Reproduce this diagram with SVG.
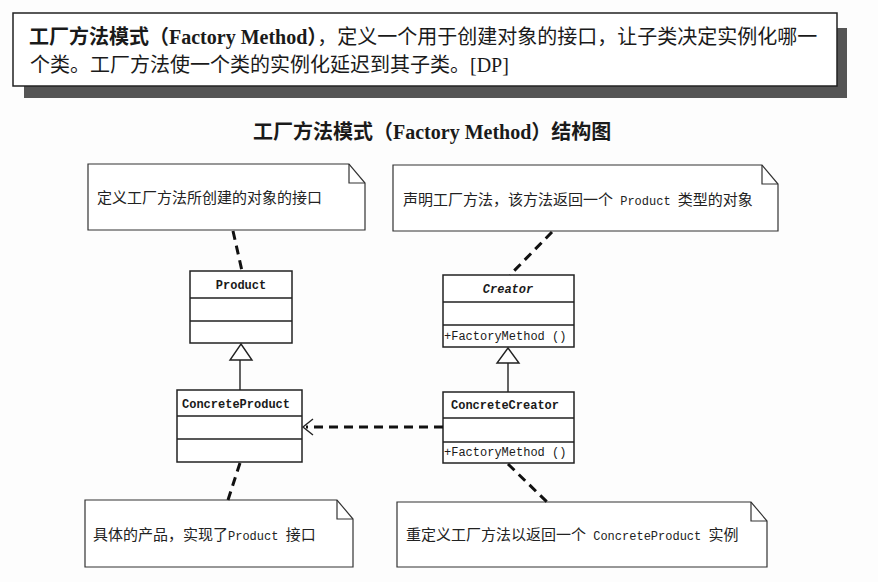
<svg xmlns="http://www.w3.org/2000/svg" width="878" height="582" viewBox="0 0 878 582">
<style>
.bg{fill:#fdfdfd}
.box{fill:#fff;stroke:#222;stroke-width:1.5}
.sep{stroke:#222;stroke-width:1.3;fill:none}
.note{fill:#fff;stroke:#333;stroke-width:1.2}
.fold{fill:none;stroke:#333;stroke-width:1.2}
.dash{stroke:#111;stroke-width:3;stroke-dasharray:9 6;fill:none}
.line{stroke:#222;stroke-width:1.4;fill:none}
.tri{fill:#fff;stroke:#222;stroke-width:1.4}
.hd{font-family:"Liberation Serif","Noto Sans CJK SC",serif;font-size:20px;fill:#1a1a1a}
.nt{font-family:"Noto Sans CJK SC",sans-serif;font-size:15px;fill:#222}
.lat{font-family:"Liberation Mono",monospace;font-size:12px}
.cls{font-family:"Liberation Mono","Noto Sans CJK SC",monospace;font-size:12px;fill:#1a1a1a}
</style>
<rect class="bg" x="0" y="0" width="878" height="582"/>

<g id="header">
  <path d="M837 28 H847 V98 H24 V86 H837 Z" fill="#555"/>
  <rect x="13" y="13" width="824" height="73" fill="#fff" stroke="#222" stroke-width="1.5"/>
  <text class="hd" x="29" y="44"><tspan font-weight="bold">工厂方法模式（Factory Method）</tspan>，定义一个用于创建对象的接口，让子类决定实例化哪一</text>
  <text class="hd" x="30" y="72">个类。工厂方法使一个类的实例化延迟到其子类。[DP]</text>
</g>

<g id="title">
  <text class="hd" x="253" y="139" font-weight="bold">工厂方法模式（Factory Method）结构图</text>
</g>

<g id="note-product">
  <path class="note" d="M88 164 H349 L365 183 V230 H88 Z"/>
  <path class="fold" d="M349 164 V183 H365"/>
  <text class="nt" x="97" y="203">定义工厂方法所创建的对象的接口</text>
</g>

<g id="note-creator">
  <path class="note" d="M393 165 H762 L778 184 V231 H393 Z"/>
  <path class="fold" d="M762 165 V184 H778"/>
  <text class="nt" x="403" y="205">声明工厂方法，该方法返回一个<tspan class="lat"> Product </tspan>类型的对象</text>
</g>

<g id="note-concreteproduct">
  <path class="note" d="M85 500 H337 L353 519 V567 H85 Z"/>
  <path class="fold" d="M337 500 V519 H353"/>
  <text class="nt" x="93" y="540">具体的产品，实现了<tspan class="lat">Product </tspan>接口</text>
</g>

<g id="note-concretecreator">
  <path class="note" d="M397 502 H751 L767 521 V567 H397 Z"/>
  <path class="fold" d="M751 502 V521 H767"/>
  <text class="nt" x="406" y="540">重定义工厂方法以返回一个<tspan class="lat"> ConcreteProduct </tspan>实例</text>
</g>

<g id="Product">
  <rect class="box" x="190" y="271" width="102" height="72"/>
  <path class="sep" d="M190 298 H292 M190 321 H292"/>
  <text class="cls" x="241" y="289" text-anchor="middle" font-weight="bold">Product</text>
</g>

<g id="ConcreteProduct">
  <rect class="box" x="177" y="390" width="125" height="72"/>
  <path class="sep" d="M177 416 H302 M177 439 H302"/>
  <text class="cls" x="236" y="408" text-anchor="middle" font-weight="bold">ConcreteProduct</text>
</g>

<g id="Creator">
  <rect class="box" x="443" y="275" width="131" height="72"/>
  <path class="sep" d="M443 302 H574 M443 325 H574"/>
  <text class="cls" x="508" y="293" text-anchor="middle" font-weight="bold" font-style="italic">Creator</text>
  <text class="cls" x="444" y="340">+FactoryMethod ()</text>
</g>

<g id="ConcreteCreator">
  <rect class="box" x="443" y="392" width="131" height="71"/>
  <path class="sep" d="M443 418 H574 M443 442 H574"/>
  <text class="cls" x="505" y="409" text-anchor="middle" font-weight="bold">ConcreteCreator</text>
  <text class="cls" x="444" y="456">+FactoryMethod ()</text>
</g>

<g id="connectors">
  <path class="line" d="M240 360 V390"/>
  <path class="tri" d="M241 344 L252 360 H230 Z"/>
  <path class="line" d="M508 363 V392"/>
  <path class="tri" d="M508 348 L519 363 H497 Z"/>
  <path class="dash" d="M443 427 H306"/>
  <path class="line" d="M313 419 L303 427 L313 435" stroke-width="1.6"/>
  <path class="dash" d="M233 231 L242 271"/>
  <path class="dash" d="M552 232 L510 275"/>
  <path class="dash" d="M240 463 L228 500"/>
  <path class="dash" d="M508 464 L547 502"/>
</g>
</svg>
